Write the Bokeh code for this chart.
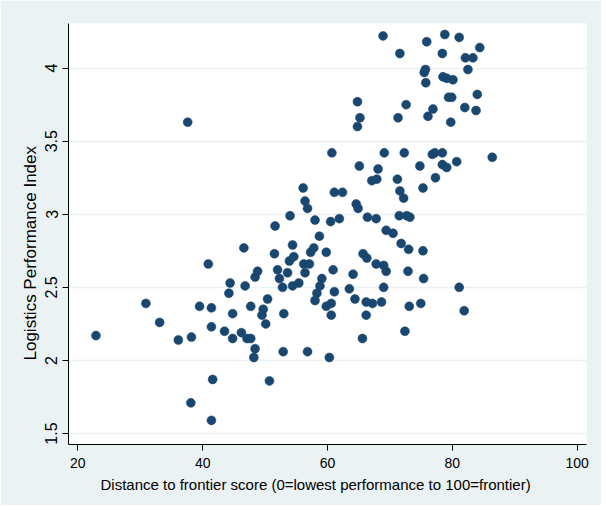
from bokeh.plotting import figure
from bokeh.models import Range1d, FixedTicker, Title
from bokeh.embed import file_html
from bokeh.resources import INLINE

dtf_score = [22.9, 30.9, 33.1, 36.1, 38.2, 37.6, 38.1, 39.5, 40.9, 41.4,
             41.4, 41.6, 41.4, 43.5, 44.4, 44.2, 44.8, 44.8, 46.2, 46.6,
             46.8, 47.1, 47.7, 47.7, 48.4, 48.2, 48.4, 48.8, 49.5, 49.7,
             50.1, 50.4, 50.7, 51.6, 51.5, 52.0, 52.3, 52.8, 53.0, 52.9,
             53.6, 54.0, 53.9, 54.4, 54.6, 54.4, 55.4, 56.1, 56.4, 56.8,
             56.2, 56.4, 57.1, 57.3, 57.8, 56.8, 58.0, 58.7, 58.0, 58.3,
             59.1, 58.8, 59.8, 59.8, 60.6, 60.6, 60.3, 60.7, 60.5, 60.9,
             61.1, 61.1, 61.9, 62.4, 63.5, 64.1, 64.4, 64.6, 64.9, 64.8,
             64.8, 65.2, 65.1, 65.6, 65.7, 66.3, 66.4, 66.2, 66.2, 67.2,
             67.1, 67.9, 68.1, 67.8, 67.8, 68.65, 68.9, 69.1, 69.0, 69.4,
             69.0, 69.4, 70.5, 71.2, 71.3, 71.6, 71.6, 72.2, 71.5, 71.8,
             72.3, 72.6, 72.4, 72.7, 73.2, 73.0, 72.9, 73.1, 74.8, 74.95,
             75.3, 75.3, 75.4, 75.5, 75.7, 75.9, 75.75, 76.1, 76.9, 76.8,
             77.2, 77.3, 78.4, 78.4, 79.1, 78.4, 78.8, 78.5, 79.1, 80.1,
             79.4, 79.9, 79.75, 80.7, 81.1, 81.1, 81.9, 82.1, 83.3, 82.5,
             82.0, 83.8, 84.0, 84.4, 86.4]

lpi = [2.17, 2.39, 2.26, 2.14, 2.16, 3.63, 1.71, 2.37, 2.66, 2.36,
       2.23, 1.87, 1.59, 2.20, 2.53, 2.46, 2.32, 2.15, 2.19, 2.77,
       2.51, 2.15, 2.15, 2.37, 2.08, 2.02, 2.57, 2.61, 2.31, 2.35,
       2.25, 2.42, 1.86, 2.92, 2.73, 2.62, 2.56, 2.50, 2.32, 2.06,
       2.60, 2.99, 2.68, 2.79, 2.71, 2.51, 2.53, 3.18, 3.09, 3.04,
       2.66, 2.60, 2.66, 2.74, 2.77, 2.06, 2.96, 2.85, 2.41, 2.46,
       2.56, 2.51, 2.74, 2.37, 2.39, 2.31, 2.02, 3.42, 2.95, 2.62,
       2.47, 3.15, 2.97, 3.15, 2.49, 2.59, 2.42, 3.07, 3.04, 3.77,
       3.60, 3.66, 3.33, 2.15, 2.73, 2.70, 2.98, 2.40, 2.31, 2.39,
       3.23, 3.24, 3.31, 2.97, 2.66, 2.40, 4.22, 3.42, 2.65, 2.61,
       2.50, 2.89, 2.87, 3.24, 3.66, 4.10, 3.16, 3.11, 2.99, 2.80,
       3.42, 3.75, 2.20, 2.99, 2.98, 2.76, 2.61, 2.37, 3.33, 2.39,
       3.18, 2.75, 2.56, 3.97, 3.99, 4.18, 3.90, 3.67, 3.72, 3.41,
       3.42, 3.25, 3.42, 3.34, 3.32, 4.10, 4.23, 3.94, 3.93, 3.92,
       3.80, 3.80, 3.63, 3.36, 4.21, 2.50, 2.34, 4.07, 4.07, 3.99,
       3.73, 3.71, 3.82, 4.14, 3.39]

x_ticks = [20, 40, 60, 80, 100]
y_ticks = [1.5, 2, 2.5, 3, 3.5, 4]
x_title = "Distance to frontier score (0=lowest performance to 100=frontier)"
y_title = "Logistics Performance Index"

FONT = "'Liberation Sans Narrow', 'Liberation Sans', Arial, sans-serif"
BG = "#EAF2F3"
NAVY = "#1A476F"

p = figure(width=601, height=505, output_backend="svg", toolbar_location=None,
           x_range=Range1d(18.5, 101.5), y_range=Range1d(1.425, 4.305),
           min_border_left=68, min_border_top=23, min_border_right=15,
           min_border_bottom=61)

p.background_fill_color = "white"
p.border_fill_color = BG
p.outline_line_color = None

p.scatter(dtf_score, lpi, size=9, marker="circle", fill_color=NAVY,
          line_color=NAVY, line_width=0.5)

for ax in (p.xaxis, p.yaxis):
    ax.axis_line_color = "#000000"
    ax.axis_line_width = 1
    ax.major_tick_line_color = "#000000"
    ax.major_tick_out = 6
    ax.major_tick_in = 0
    ax.minor_tick_out = 0
    ax.minor_tick_in = 0
    ax.major_label_text_font = FONT
    ax.major_label_text_color = "#000000"

p.xaxis.major_label_text_font_size = "14px"
p.yaxis.major_label_text_font_size = "16px"
p.xaxis.ticker = FixedTicker(ticks=x_ticks)
p.yaxis.ticker = FixedTicker(ticks=y_ticks)
p.xaxis.major_label_standoff = 7
p.yaxis.major_label_standoff = 5
p.yaxis.major_label_orientation = "vertical"

p.xgrid.grid_line_color = None
p.ygrid.grid_line_color = BG
p.ygrid.grid_line_width = 1.5

p.add_layout(Title(text=x_title, align="left", offset=32, text_font=FONT,
                   text_font_size="15px", text_font_style="normal",
                   text_color="#000000", standoff=6), "below")
p.add_layout(Title(text=y_title, align="left", offset=84, text_font=FONT,
                   text_font_size="17px", text_font_style="normal",
                   text_color="#000000", standoff=6), "left")

open("out.html", "w").write(file_html(p, INLINE))
